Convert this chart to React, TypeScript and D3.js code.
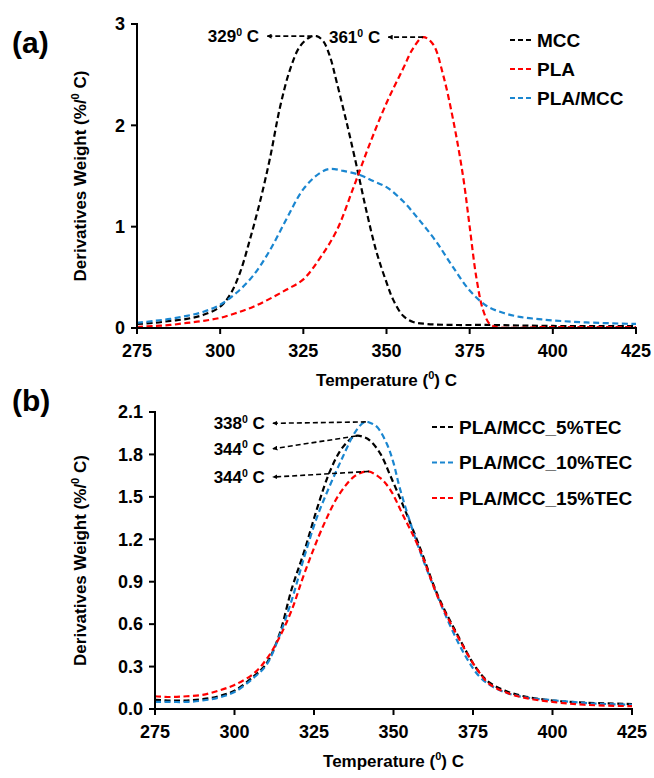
import * as d3 from 'd3';

// panel (a) – temperature (°C) and derivative weight (%/°C)
const mccTemp = [275, 280, 285, 290, 295, 300, 303, 306, 309, 312, 315, 318, 321, 324, 327, 329, 331, 333, 335, 338, 341, 344, 347, 350, 352, 355, 358, 362, 370, 380, 400, 425];
const mccDeriv = [0.04, 0.05, 0.07, 0.09, 0.13, 0.21, 0.33, 0.55, 0.88, 1.25, 1.68, 2.18, 2.55, 2.78, 2.87, 2.88, 2.83, 2.68, 2.43, 2.03, 1.6, 1.15, 0.75, 0.45, 0.28, 0.12, 0.06, 0.04, 0.03, 0.03, 0.02, 0.02];

const plaTemp = [275, 280, 285, 290, 295, 300, 305, 310, 315, 320, 325, 330, 335, 340, 345, 350, 355, 358, 361, 364, 367, 370, 373, 375, 377, 379, 381, 383, 400, 425];
const plaDeriv = [0.01, 0.02, 0.03, 0.05, 0.07, 0.1, 0.15, 0.21, 0.29, 0.38, 0.48, 0.69, 0.96, 1.38, 1.82, 2.22, 2.56, 2.76, 2.87, 2.8, 2.5, 2.06, 1.5, 1.0, 0.5, 0.18, 0.04, 0.01, 0.01, 0.01];

const plaMccTemp = [275, 280, 285, 290, 295, 300, 305, 310, 315, 320, 325, 330, 333, 337, 342, 346, 350, 355, 360, 365, 370, 375, 380, 385, 390, 395, 400, 410, 425];
const plaMccDeriv = [0.05, 0.07, 0.09, 0.12, 0.16, 0.23, 0.35, 0.52, 0.77, 1.08, 1.37, 1.53, 1.57, 1.55, 1.51, 1.45, 1.39, 1.25, 1.06, 0.85, 0.6, 0.37, 0.22, 0.15, 0.11, 0.09, 0.075, 0.055, 0.04];

// panel (b)
const tec5Temp = [275, 280, 285, 290, 295, 300, 306, 310, 314, 318, 322, 326, 330, 334, 338, 341, 343, 346, 349, 353, 358, 364, 370, 376, 380, 385, 391, 400, 410, 425];
const tec5Deriv = [0.065, 0.06, 0.06, 0.07, 0.09, 0.13, 0.23, 0.32, 0.52, 0.85, 1.12, 1.42, 1.68, 1.85, 1.93, 1.92, 1.89, 1.8, 1.65, 1.44, 1.16, 0.8, 0.53, 0.29, 0.19, 0.13, 0.09, 0.06, 0.045, 0.035];

const tec10Temp = [275, 280, 285, 290, 295, 300, 306, 310, 314, 318, 322, 326, 330, 334, 338, 341, 343, 345, 348, 350, 352, 357, 362, 368, 373, 377, 381, 386, 392, 401, 412, 425];
const tec10Deriv = [0.05, 0.05, 0.05, 0.06, 0.08, 0.12, 0.22, 0.31, 0.51, 0.77, 1.08, 1.36, 1.58, 1.78, 1.96, 2.03, 2.02, 1.99, 1.87, 1.74, 1.56, 1.2, 0.9, 0.58, 0.36, 0.23, 0.16, 0.11, 0.08, 0.06, 0.04, 0.03];

const tec15Temp = [275, 280, 285, 290, 295, 300, 306, 310, 314, 318, 322, 328, 333, 338, 342, 346, 349, 353, 358, 364, 370, 376, 380, 385, 391, 400, 410, 425];
const tec15Deriv = [0.09, 0.085, 0.09, 0.1, 0.13, 0.17, 0.25, 0.35, 0.5, 0.7, 0.96, 1.3, 1.52, 1.65, 1.68, 1.63, 1.55, 1.37, 1.14, 0.79, 0.52, 0.29, 0.18, 0.12, 0.08, 0.05, 0.03, 0.02];

const tempTicks = [275, 300, 325, 350, 375, 400, 425];
const derivTicksA = [0, 1, 2, 3];
const derivTicksB = [0, 0.3, 0.6, 0.9, 1.2, 1.5, 1.8, 2.1];

// peak call-outs: label, peak point, arrow head point
const peaksA = [
    { label: '329', peakT: 327.7, peakV: 2.88, headT: 312.6, headV: 2.88 },
    { label: '361', peakT: 361, peakV: 2.87, headT: 349, headV: 2.87 },
];
const peaksB = [
    { label: '338', peakT: 341.3, peakV: 2.03, headT: 310.5, headV: 2.02 },
    { label: '344', peakT: 338.2, peakV: 1.93, headT: 310.5, headV: 1.84 },
    { label: '344', peakT: 342.3, peakV: 1.68, headT: 310.5, headV: 1.64 },
];

const BLACK = '#000000';
const RED = '#ff0000';
const BLUE = '#1a86d0';
const FONT = '"Liberation Sans", Arial, sans-serif';

type Series = { name: string; temp: number[]; deriv: number[]; color: string };
type Peak = { label: string; peakT: number; peakV: number; headT: number; headV: number };

const seriesA: Series[] = [
    { name: 'MCC', temp: mccTemp, deriv: mccDeriv, color: BLACK },
    { name: 'PLA', temp: plaTemp, deriv: plaDeriv, color: RED },
    { name: 'PLA/MCC', temp: plaMccTemp, deriv: plaMccDeriv, color: BLUE },
];
const seriesB: Series[] = [
    { name: 'PLA/MCC_5%TEC', temp: tec5Temp, deriv: tec5Deriv, color: BLACK },
    { name: 'PLA/MCC_10%TEC', temp: tec10Temp, deriv: tec10Deriv, color: BLUE },
    { name: 'PLA/MCC_15%TEC', temp: tec15Temp, deriv: tec15Deriv, color: RED },
];

function Deg({ text, size }: { text: string; size: number }) {
    // "329⁰ C" style label with a raised small zero
    return (
        <>
            {text}
            <tspan fontSize={size * 0.62} dy={-size * 0.38}>0</tspan>
            <tspan dy={size * 0.38}>{'\u00a0C'}</tspan>
        </>
    );
}

function Panel(props: {
    tag: string;
    tagY: number;
    left: number;
    right: number;
    top: number;
    bottom: number;
    yMax: number;
    yTicks: number[];
    yFmt: (v: number) => string;
    series: Series[];
    peaks: Peak[];
    legendX: number;
    legendY: number;
    legendStep: number;
    titleX: number;
    markerId: string;
}) {
    const { left, right, top, bottom } = props;
    const x = d3.scaleLinear().domain([275, 425]).range([left, right]);
    const y = d3.scaleLinear().domain([0, props.yMax]).range([bottom, top]);
    const line = d3
        .line<[number, number]>()
        .x((d) => x(d[0]))
        .y((d) => y(d[1]))
        .curve(d3.curveCatmullRom.alpha(0.5));

    return (
        <g fontFamily={FONT} fontWeight="bold">
            <text x={12} y={props.tagY} fontSize={30} fill="#000">{props.tag}</text>

            {props.series.map((s) => (
                <path
                    key={s.name}
                    d={line(s.temp.map((t, i) => [t, s.deriv[i]] as [number, number])) ?? ''}
                    fill="none"
                    stroke={s.color}
                    strokeWidth={2.2}
                    strokeDasharray="6,3.5"
                />
            ))}

            {/* axes */}
            <line x1={left} x2={left} y1={top - 1} y2={bottom} stroke="#000" strokeWidth={2} />
            <line x1={left} x2={right + 1} y1={bottom} y2={bottom} stroke="#000" strokeWidth={2} />
            {props.yTicks.map((v) => (
                <g key={v}>
                    <line x1={left - 6} x2={left} y1={y(v)} y2={y(v)} stroke="#000" strokeWidth={2} />
                    <text x={left - 12} y={y(v)} dy="0.35em" textAnchor="end" fontSize={18}>
                        {props.yFmt(v)}
                    </text>
                </g>
            ))}
            {tempTicks.map((t) => (
                <g key={t}>
                    <line x1={x(t)} x2={x(t)} y1={bottom} y2={bottom + 6} stroke="#000" strokeWidth={2} />
                    <text x={x(t)} y={bottom + 29} textAnchor="middle" fontSize={18}>{t}</text>
                </g>
            ))}
            <text x={(left + right) / 2} y={bottom + 58} textAnchor="middle" fontSize={17}>
                Temperature (<tspan fontSize={11} dy={-7}>0</tspan><tspan dy={7}>) C</tspan>
            </text>
            <text
                transform={`translate(${props.titleX},${(top + bottom) / 2}) rotate(-90)`}
                textAnchor="middle"
                fontSize={17}
            >
                Derivatives Weight (%/<tspan fontSize={11} dy={-7}>0</tspan><tspan dy={7}>{'\u00a0C)'}</tspan>
            </text>

            {/* peak call-outs */}
            {props.peaks.map((p, i) => (
                <g key={i}>
                    <line
                        x1={x(p.peakT)}
                        y1={y(p.peakV)}
                        x2={x(p.headT) + 5}
                        y2={y(p.headV)}
                        stroke="#000"
                        strokeWidth={1.6}
                        strokeDasharray="5,3"
                        markerEnd={`url(#${props.markerId})`}
                    />
                    <text x={x(p.headT) - 3} y={y(p.headV)} dy="0.36em" textAnchor="end" fontSize={17}>
                        <Deg text={p.label} size={17} />
                    </text>
                </g>
            ))}

            {/* legend */}
            {props.series.map((s, i) => {
                const ly = props.legendY + i * props.legendStep;
                return (
                    <g key={s.name}>
                        <line
                            x1={props.legendX}
                            x2={props.legendX + 24}
                            y1={ly}
                            y2={ly}
                            stroke={s.color}
                            strokeWidth={2.2}
                            strokeDasharray="5,3"
                        />
                        <text x={props.legendX + 27} y={ly} dy="0.36em" fontSize={19}>{s.name}</text>
                    </g>
                );
            })}
        </g>
    );
}

export default function App() {
    return (
        <svg
            width={654}
            height={778}
            style={{ position: 'absolute', left: 0, top: 0, background: '#fff' }}
        >
            <defs>
                {['arrA', 'arrB'].map((id) => (
                    <marker
                        key={id}
                        id={id}
                        viewBox="0 0 10 10"
                        refX={9}
                        refY={5}
                        markerWidth={5}
                        markerHeight={5}
                        orient="auto"
                        markerUnits="userSpaceOnUse"
                    >
                        <path d="M0,0 L10,5 L0,10 z" fill="#000" />
                    </marker>
                ))}
            </defs>
            <rect width={654} height={778} fill="#fff" />
            <Panel
                tag="(a)"
                tagY={53}
                left={137}
                right={636}
                top={24}
                bottom={328}
                yMax={3}
                yTicks={derivTicksA}
                yFmt={(v) => d3.format('d')(v)}
                series={seriesA}
                peaks={peaksA}
                legendX={510}
                legendY={40}
                legendStep={29}
                titleX={86}
                markerId="arrA"
            />
            <Panel
                tag="(b)"
                tagY={411}
                left={155}
                right={632}
                top={412}
                bottom={709}
                yMax={2.1}
                yTicks={derivTicksB}
                yFmt={(v) => d3.format('.1f')(v)}
                series={seriesB}
                peaks={peaksB}
                legendX={432}
                legendY={427}
                legendStep={35.5}
                titleX={86}
                markerId="arrB"
            />
        </svg>
    );
}
